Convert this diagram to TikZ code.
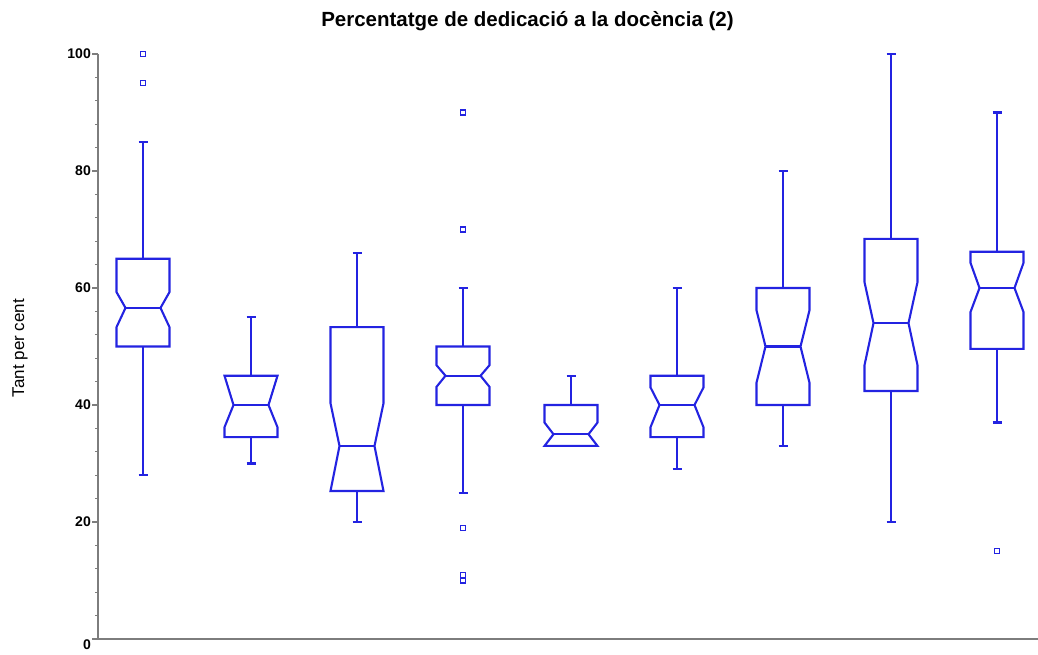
\documentclass[tikz,border=0pt]{standalone}
\usepackage{fontspec}
\setmainfont{Liberation Sans}
\definecolor{bx}{RGB}{35,35,225}
\definecolor{axc}{RGB}{125,125,125}
\tikzset{
  wh/.style={draw=bx, line width=2.1pt},
  bxs/.style={draw=bx, line width=2.1pt, line join=miter},
  ol/.style={draw=bx, line width=1.2pt},
  axs/.style={draw=axc, line width=1.6pt},
  tickl/.style={anchor=east, font=\bfseries\fontsize{14}{14}\selectfont, inner sep=0pt},
}
% cx, wlo, q1, nlo, med, nhi, q3, whi
\newcommand\bxp[8]{%
  \draw[wh] (#1,#2) -- (#1,#3);
  \draw[wh] (#1,#7) -- (#1,#8);
  \draw[wh] (#1-4.5,#2) -- (#1+4.5,#2);
  \draw[wh] (#1-4.5,#8) -- (#1+4.5,#8);
  \draw[bxs] (#1-26.5,#7) -- (#1-26.5,#6) -- (#1-17.5,#5) -- (#1-26.5,#4) -- (#1-26.5,#3)
     -- (#1+26.5,#3) -- (#1+26.5,#4) -- (#1+17.5,#5) -- (#1+26.5,#6) -- (#1+26.5,#7) -- cycle;
  \draw[bxs] (#1-17.5,#5) -- (#1+17.5,#5);
}
\newcommand\outl[2]{\draw[ol] (#1,#2) ++(-2.5pt,-2.5pt) rectangle ++(5pt,5pt);}
\begin{document}
\begin{tikzpicture}[x=1pt,y=1pt]
\useasboundingbox (0,0) rectangle (1038,655);
\node[font=\bfseries\fontsize{20.5}{20.5}\selectfont] (title) at (527.5,634) {Percentatge de dedicació a la docència (2)};
\node[font=\fontsize{17}{17}\selectfont, rotate=90] (ylab) at (20,307) {Tant per cent};
\begin{scope}[shift={(0,16)}, y=5.85pt]
  \coordinate (o) at (98,0);
  \coordinate (top) at (98,100);
  \coordinate (xe) at (1038,0);
  \draw[axs] (top) -- (o) -- (xe);
  \foreach \v in {4,8,...,96} \draw[axs, line width=1.2pt] (98,\v) -- (95,\v);
  \foreach \v in {20,40,...,100} {
    \draw[axs] (98,\v) -- (92,\v);
    \node[tickl] (t\v) at (91,\v) {\v};
  }
  \draw[axs] (98,0) -- (92,0);
  \node[tickl] (t0) at (91,-1) {0};
  \bxp{143}{28}{50}{53.3}{56.6}{59.3}{65}{85}
  \outl{143}{95}\outl{143}{100}
  \bxp{251}{30}{34.5}{36.2}{40}{45}{45}{55}
  \bxp{357}{20}{25.3}{25.3}{33}{40.3}{53.3}{66}
  \bxp{463}{25}{40}{43.1}{45}{46.8}{50}{60}
  \outl{463}{90}\outl{463}{70}\outl{463}{19}\outl{463}{11}\outl{463}{10}
  \bxp{571}{33}{33}{33}{35}{37}{40}{45}
  \bxp{677}{29}{34.5}{36.2}{40}{43}{45}{60}
  \bxp{783}{33}{40}{43.8}{50}{56.2}{60}{80}
  \bxp{891}{20}{42.4}{46.8}{54}{61}{68.4}{100}
  \bxp{997}{37}{49.6}{55.9}{60}{64.3}{66.2}{90}
  \outl{997}{15}
\end{scope}
\end{tikzpicture}
\end{document}
